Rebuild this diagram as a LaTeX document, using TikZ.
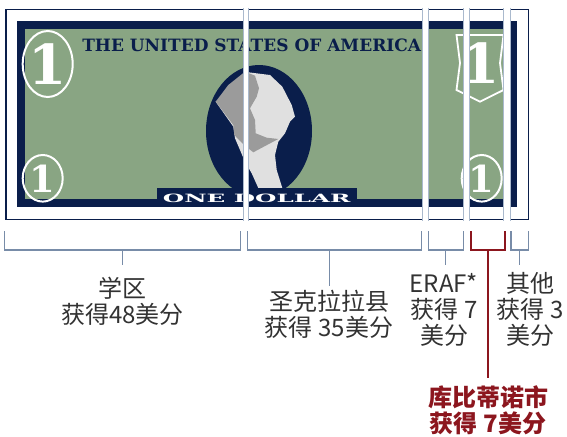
\documentclass[tikz,border=0pt]{standalone}
\usepackage{fontspec}
\usepackage{xcolor}
\usepackage{graphicx}
\newfontfamily\cjk{Noto Sans CJK SC}
\newfontfamily\billfont{DejaVu Serif}
\definecolor{billnavy}{RGB}{10,30,75}
\definecolor{billgreen}{RGB}{137,165,131}
\definecolor{facegray}{RGB}{224,224,224}
\definecolor{hairgray}{RGB}{155,155,155}
\definecolor{gapline}{RGB}{170,185,205}
\definecolor{brkblue}{RGB}{120,140,168}
\definecolor{txtgray}{RGB}{50,50,50}
\definecolor{cupred}{RGB}{140,22,30}

\begin{document}
\begin{tikzpicture}[x=1pt,y=-1pt,
  brk/.style={draw=brkblue, line width=1.1pt},
  lbl/.style={align=center, text=txtgray, font=\cjk\fontsize{24}{26}\selectfont, inner sep=0pt},
  numeral/.style={text=white, inner sep=0pt}]
\useasboundingbox (0,0) rectangle (567,436);

% the bill
\draw[billnavy, line width=1.6pt] (6,9.5) rectangle (528.5,219.3);
\fill[billnavy] (17,21) rectangle (517.3,207.3);
\fill[billgreen] (25,29.3) rectangle (510,199.3);
\node[text=billnavy, inner sep=0pt, font=\billfont\bfseries\fontsize{17}{17}\selectfont] (title) at (251.7,45) {THE UNITED STATES OF AMERICA};

% portrait
\fill[billnavy] (259,131) ellipse [x radius=53, y radius=66];
\fill[facegray] (248.3,72.3) -- (270,75) -- (282.3,86.7) -- (291.7,105) -- (295,116.7) -- (290,121.7) -- (285,133.3) -- (278.3,141.7) -- (275,155) -- (276.7,170) -- (282.3,188) -- (258.3,188) -- (251.7,173.3) -- (245,161.7) -- (235,138.3) -- (233.3,126.7) -- (215.7,101.7) -- cycle;
\fill[hairgray] (215.7,101.7) -- (228.3,85) -- (245,71.7) -- (255,75.7) -- (259,88.3) -- (256.7,96.7) -- (250,108.3) -- (255,120) -- (255.7,133.3) -- (266.7,137.7) -- (278.3,139) -- (253.3,152.3) -- (243.3,144.3) -- (234.3,135) -- (233.3,125) -- cycle;
\fill[billnavy] (156.7,187.7) rectangle (356.7,207.3);
\node[text=white, inner sep=0pt, font=\billfont\bfseries\fontsize{11.4}{11.4}\selectfont] (dollar) at (256.7,198.3) {\scalebox{2.15}[1]{ONE DOLLAR}};

% corner numbers
\draw[white, line width=2pt] (47.7,64) ellipse [x radius=25, y radius=33];
\node[numeral, font=\billfont\bfseries\fontsize{55}{55}\selectfont] (oneTL) at (47.7,64) {1};
\draw[white, line width=2pt] (42.7,178.3) ellipse [x radius=20, y radius=23.3];
\node[numeral, font=\billfont\bfseries\fontsize{37}{37}\selectfont] (oneBL) at (42.7,178.3) {1};
\draw[white, line width=2pt] (481.7,178.3) ellipse [x radius=20, y radius=23.3];
\node[numeral, font=\billfont\bfseries\fontsize{37}{37}\selectfont] (oneBR) at (481.7,178.3) {1};
\draw[white, line width=1.8pt, line join=miter] (456.5,35) -- (503.5,35) -- (500,63) -- (503.5,90) -- (480,101.7) -- (456.5,90) -- (460,63) -- cycle;
\node[numeral, font=\billfont\bfseries\fontsize{55}{55}\selectfont] (oneTR) at (481,63.3) {1};

% cuts through the bill
\fill[white] (242.7,8) rectangle (248.3,220.5);
\draw[gapline] (242.7,8) -- (242.7,220.5) (248.3,8) -- (248.3,220.5);
\fill[white] (421.7,8) rectangle (427.7,220.5);
\draw[gapline] (421.7,8) -- (421.7,220.5) (427.7,8) -- (427.7,220.5);
\fill[white] (462.7,8) rectangle (468.7,220.5);
\draw[gapline] (462.7,8) -- (462.7,220.5) (468.7,8) -- (468.7,220.5);
\fill[white] (503.3,8) rectangle (510,220.5);
\draw[gapline] (503.3,8) -- (503.3,220.5) (510,8) -- (510,220.5);

% brackets
\coordinate (b1l) at (4.3,231);
\coordinate (b1r) at (240.7,231);
\coordinate (b1m) at (122.5,250);
\coordinate (b1s) at (122.5,265);
\draw[brk] (b1l) -- ++(0,19) -| (b1r);
\draw[brk] (b1m) -- (b1s);
\coordinate (b2l) at (247.3,231);
\coordinate (b2r) at (421.7,231);
\coordinate (b2m) at (329.3,250);
\coordinate (b2s) at (329.3,286);
\draw[brk] (b2l) -- ++(0,19) -| (b2r);
\draw[brk] (b2m) -- (b2s);
\coordinate (b3l) at (428.3,231);
\coordinate (b3r) at (463.3,231);
\coordinate (b3m) at (445.7,250);
\coordinate (b3s) at (445.7,265);
\draw[brk] (b3l) -- ++(0,19) -| (b3r);
\draw[brk] (b3m) -- (b3s);
\coordinate (b4l) at (470.7,231);
\coordinate (b4r) at (505.3,231);
\coordinate (b4m) at (488.3,250);
\coordinate (b4s) at (488.3,378.3);
\draw[brk, draw=cupred, line width=2pt] (b4l) -- ++(0,19) -| (b4r);
\draw[brk, draw=cupred, line width=2pt] (b4m) -- (b4s);
\coordinate (b5l) at (511,231);
\coordinate (b5r) at (528.3,231);
\coordinate (b5m) at (519.3,250);
\coordinate (b5s) at (519.3,265);
\draw[brk] (b5l) -- ++(0,19) -| (b5r);
\draw[brk] (b5m) -- (b5s);

% labels
\node[lbl] (school) at (122.5,301.2) {学区\\获得48美分};
\node[lbl] (county) at (329,314.6) {圣克拉拉县\\获得 35美分};
\node[lbl] (eraf) at (444,309.8) {ERAF*\\获得 7\\美分};
\node[lbl] (other) at (530,309.8) {其他\\获得 3\\美分};
\node[lbl, text=cupred, font=\cjk\bfseries\fontsize{24}{26}\selectfont] (city) at (488,410.7) {库比蒂诺市\\获得 7美分};
\end{tikzpicture}
\end{document}
